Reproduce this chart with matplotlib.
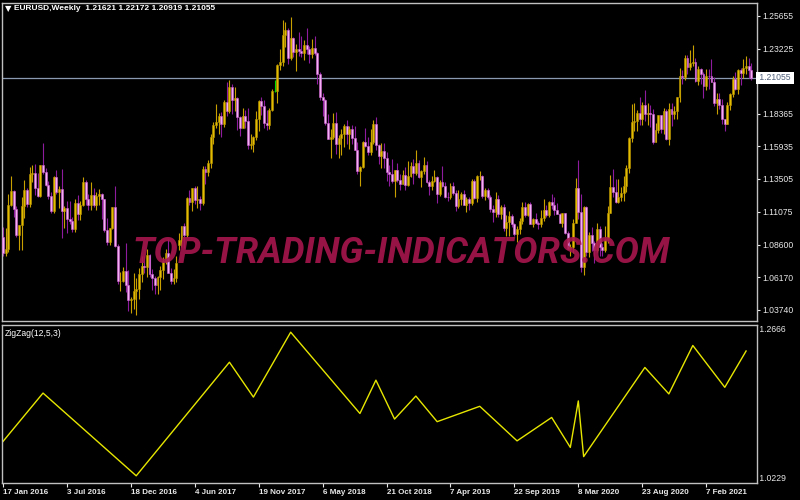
import matplotlib.pyplot as plt
import numpy as np

# weekly EURUSD candles, 17 Jan 2016 .. 6 Jun 2021 (one value per week)
first_open = 1.0915

closes = [
    # 2016
    1.0796, 1.0830, 1.1156, 1.1259, 1.1128, 1.0932, 1.1005, 1.1152, 1.1268, 1.1167,
    1.1390, 1.1396, 1.1284, 1.1225, 1.1453, 1.1404, 1.1308, 1.1223, 1.1114, 1.1367,
    1.1252, 1.1275, 1.1114, 1.1136, 1.1053, 1.1036, 1.0976, 1.1175, 1.1087, 1.1160,
    1.1325, 1.1198, 1.1156, 1.1233, 1.1153, 1.1226, 1.1240, 1.1200, 1.0971, 1.0882,
    1.0984, 1.1142, 1.0850, 1.0588, 1.0589, 1.0664, 1.0560, 1.0448, 1.0454, 1.0517,
    # 2017
    1.0532, 1.0643, 1.0700, 1.0697, 1.0783, 1.0640, 1.0614, 1.0561, 1.0622,
    1.0672, 1.0739, 1.0797, 1.0650, 1.0593, 1.0614, 1.0725, 1.0895, 1.0998,
    1.0932, 1.1206, 1.1181, 1.1281, 1.1195, 1.1200, 1.1170, 1.1426,
    1.1400, 1.1470, 1.1665, 1.1750, 1.1773, 1.1822, 1.1760, 1.1924, 1.1860,
    1.2035, 1.1942, 1.1951, 1.1814, 1.1734, 1.1821, 1.1785, 1.1606, 1.1609,
    1.1664, 1.1795, 1.1931, 1.1892, 1.1770, 1.1750, 1.1866, 1.2005,
    # 2018
    1.2005, 1.2200, 1.2220, 1.2427, 1.2460, 1.2250, 1.2405, 1.2295, 1.2318,
    1.2305, 1.2290, 1.2352, 1.2320, 1.2280, 1.2330, 1.2288, 1.2130, 1.1960,
    1.1943, 1.1770, 1.1650, 1.1660, 1.1770, 1.1610, 1.1658, 1.1685,
    1.1745, 1.1685, 1.1720, 1.1655, 1.1570, 1.1410, 1.1440, 1.1625, 1.1600,
    1.1550, 1.1625, 1.1760, 1.1605, 1.1525, 1.1560, 1.1510, 1.1400, 1.1385,
    1.1336, 1.1415, 1.1340, 1.1315, 1.1380, 1.1305, 1.1370, 1.1445,
    # 2019
    1.1395, 1.1468, 1.1365, 1.1410, 1.1455, 1.1325, 1.1295, 1.1335, 1.1365,
    1.1235, 1.1327, 1.1300, 1.1220, 1.1215, 1.1297, 1.1245, 1.1150, 1.1200,
    1.1235, 1.1157, 1.1205, 1.1170, 1.1335, 1.1210, 1.1370, 1.1372, 1.1225,
    1.1270, 1.1220, 1.1125, 1.1108, 1.1200, 1.1090, 1.1143, 1.0988,
    1.1030, 1.1075, 1.1015, 1.0940, 1.0980, 1.1040, 1.1145, 1.1080, 1.1165,
    1.1018, 1.1052, 1.1020, 1.1017, 1.1060, 1.1122, 1.1080, 1.1178,
    # 2020
    1.1160, 1.1120, 1.1090, 1.1025, 1.1095, 1.0945, 1.0830, 1.0847, 1.1025,
    1.1285, 1.1105, 1.0695, 1.1140, 1.0805, 1.0935, 1.0875, 1.0820, 1.0980,
    1.0840, 1.0820, 1.0900, 1.1100, 1.1290, 1.1255, 1.1180, 1.1220, 1.1245,
    1.1300, 1.1430, 1.1655, 1.1775, 1.1785, 1.1840, 1.1795, 1.1905, 1.1835,
    1.1845, 1.1838, 1.1630, 1.1715, 1.1825, 1.1720, 1.1860, 1.1645,
    1.1875, 1.1835, 1.1860, 1.1960, 1.2120, 1.2110, 1.2255, 1.2185, 1.2215,
    # 2021
    1.2220, 1.2080, 1.2170, 1.2135, 1.2045, 1.2120, 1.2117, 1.2075, 1.1915,
    1.1950, 1.1905, 1.1795, 1.1762, 1.1900, 1.1985, 1.2095, 1.2020,
    1.2165, 1.2140, 1.2180, 1.2190, 1.21621, 1.21055,
]

highs = [
    # 2016
    1.0990, 1.0985, 1.1240, 1.1376, 1.1270, 1.1150, 1.1010, 1.1218, 1.1342, 1.1282,
    1.1438, 1.1454, 1.1464, 1.1398, 1.1458, 1.1616, 1.1432, 1.1339, 1.1250, 1.1373,
    1.1416, 1.1298, 1.1428, 1.1146, 1.1185, 1.1185, 1.1066, 1.1198, 1.1234, 1.1188,
    1.1366, 1.1342, 1.1240, 1.1327, 1.1282, 1.1257, 1.1279, 1.1245, 1.1205, 1.1062,
    1.0987, 1.1144, 1.1300, 1.0865, 1.0660, 1.0698, 1.0874, 1.0670, 1.0468, 1.0653,
    # 2017
    1.0615, 1.0685, 1.0775, 1.0775, 1.0829, 1.0790, 1.0680, 1.0630, 1.0630,
    1.0700, 1.0768, 1.0825, 1.0906, 1.0690, 1.0680, 1.0780, 1.0950, 1.1000,
    1.1022, 1.1213, 1.1268, 1.1285, 1.1296, 1.1296, 1.1225, 1.1445,
    1.1447, 1.1490, 1.1683, 1.1777, 1.1910, 1.1845, 1.1850, 1.1940, 1.2070,
    1.2092, 1.2060, 1.2034, 1.1960, 1.1820, 1.1880, 1.1862, 1.1880, 1.1688,
    1.1670, 1.1861, 1.1938, 1.1960, 1.1940, 1.1862, 1.1878, 1.2023,
    # 2018
    1.2089, 1.2205, 1.2323, 1.2537, 1.2520, 1.2478, 1.2555, 1.2412, 1.2355,
    1.2446, 1.2413, 1.2388, 1.2476, 1.2340, 1.2396, 1.2414, 1.2300, 1.2150,
    1.1990, 1.1950, 1.1834, 1.1725, 1.1840, 1.1852, 1.1675, 1.1720,
    1.1761, 1.1790, 1.1745, 1.1750, 1.1745, 1.1625, 1.1445, 1.1637, 1.1734,
    1.1660, 1.1720, 1.1790, 1.1815, 1.1610, 1.1620, 1.1621, 1.1550, 1.1456,
    1.1500, 1.1420, 1.1472, 1.1390, 1.1420, 1.1442, 1.1486, 1.1475,
    # 2019
    1.1497, 1.1570, 1.1490, 1.1415, 1.1514, 1.1488, 1.1342, 1.1370, 1.1420,
    1.1375, 1.1340, 1.1448, 1.1325, 1.1255, 1.1324, 1.1325, 1.1268, 1.1265,
    1.1250, 1.1265, 1.1215, 1.1215, 1.1348, 1.1347, 1.1380, 1.1412, 1.1380,
    1.1286, 1.1283, 1.1228, 1.1160, 1.1250, 1.1230, 1.1155, 1.1165,
    1.1085, 1.1110, 1.1088, 1.1025, 1.0999, 1.1063, 1.1180, 1.1179, 1.1175,
    1.1176, 1.1060, 1.1097, 1.1040, 1.1117, 1.1200, 1.1155, 1.1188,
    # 2020
    1.1240, 1.1214, 1.1173, 1.1100, 1.1097, 1.1100, 1.0960, 1.0865, 1.1053,
    1.1356, 1.1495, 1.1236, 1.1147, 1.1147, 1.0952, 1.0990, 1.0885, 1.1020,
    1.1000, 1.0877, 1.1000, 1.1147, 1.1384, 1.1422, 1.1350, 1.1350, 1.1290,
    1.1375, 1.1452, 1.1660, 1.1908, 1.1916, 1.1866, 1.1965, 1.1925, 1.2011,
    1.1917, 1.1900, 1.1872, 1.1770, 1.1830, 1.1830, 1.1880, 1.1870,
    1.1920, 1.1920, 1.1895, 1.1965, 1.2178, 1.2165, 1.2273, 1.2272, 1.2310,
    # 2021
    1.2350, 1.2250, 1.2190, 1.2175, 1.2150, 1.2170, 1.2170, 1.2243, 1.2113,
    1.1990, 1.1990, 1.1945, 1.1800, 1.1928, 1.1995, 1.2117, 1.2150,
    1.2170, 1.2180, 1.2245, 1.2265, 1.2254, 1.22172,
]

lows = [
    # 2016
    1.0778, 1.0775, 1.0810, 1.1150, 1.1067, 1.0920, 1.0822, 1.0822, 1.1057, 1.1144,
    1.1145, 1.1325, 1.1234, 1.1216, 1.1217, 1.1385, 1.1297, 1.1198, 1.1099, 1.1097,
    1.1240, 1.1131, 1.0912, 1.0987, 1.0951, 1.1017, 1.0952, 1.0952, 1.1046, 1.1046,
    1.1150, 1.1160, 1.1122, 1.1120, 1.1143, 1.1122, 1.1158, 1.1050, 1.0955, 1.0858,
    1.0857, 1.0980, 1.0845, 1.0568, 1.0518, 1.0581, 1.0505, 1.0366, 1.0352, 1.0385,
    # 2017
    1.0340, 1.0454, 1.0580, 1.0650, 1.0620, 1.0620, 1.0520, 1.0493, 1.0493,
    1.0524, 1.0603, 1.0719, 1.0648, 1.0570, 1.0570, 1.0580, 1.0820, 1.0840,
    1.0839, 1.0920, 1.1160, 1.1110, 1.1165, 1.1131, 1.1118, 1.1160,
    1.1312, 1.1372, 1.1436, 1.1612, 1.1730, 1.1689, 1.1662, 1.1735, 1.1823,
    1.1840, 1.1838, 1.1860, 1.1717, 1.1669, 1.1730, 1.1730, 1.1574, 1.1573,
    1.1554, 1.1640, 1.1712, 1.1830, 1.1730, 1.1716, 1.1720, 1.1858,
    # 2018
    1.1998, 1.1916, 1.2165, 1.2195, 1.2336, 1.2206, 1.2235, 1.2259, 1.2154,
    1.2271, 1.2258, 1.2238, 1.2285, 1.2215, 1.2256, 1.2278, 1.2055, 1.1938,
    1.1822, 1.1750, 1.1645, 1.1510, 1.1645, 1.1540, 1.1508, 1.1527,
    1.1590, 1.1613, 1.1575, 1.1615, 1.1565, 1.1385, 1.1301, 1.1430, 1.1588,
    1.1526, 1.1530, 1.1615, 1.1570, 1.1463, 1.1433, 1.1432, 1.1335, 1.1302,
    1.1320, 1.1215, 1.1330, 1.1265, 1.1310, 1.1269, 1.1300, 1.1365,
    # 2019
    1.1310, 1.1380, 1.1355, 1.1290, 1.1385, 1.1320, 1.1234, 1.1270, 1.1325,
    1.1175, 1.1225, 1.1290, 1.1212, 1.1183, 1.1203, 1.1228, 1.1110, 1.1135,
    1.1157, 1.1155, 1.1105, 1.1117, 1.1160, 1.1202, 1.1181, 1.1346, 1.1206,
    1.1193, 1.1200, 1.1102, 1.1027, 1.1070, 1.1065, 1.1052, 1.0963,
    1.0926, 1.0927, 1.0990, 1.0925, 1.0879, 1.0940, 1.1018, 1.1070, 1.1073,
    1.1013, 1.0989, 1.1015, 1.0980, 1.0995, 1.1040, 1.1065, 1.1070,
    # 2020
    1.1125, 1.1085, 1.1087, 1.1020, 1.0990, 1.0940, 1.0827, 1.0778, 1.0802,
    1.1020, 1.1052, 1.0654, 1.0636, 1.0780, 1.0770, 1.0812, 1.0727, 1.0810,
    1.0780, 1.0775, 1.0806, 1.0870, 1.1096, 1.1215, 1.1168, 1.1170, 1.1185,
    1.1185, 1.1255, 1.1396, 1.1625, 1.1710, 1.1712, 1.1753, 1.1753, 1.1780,
    1.1753, 1.1737, 1.1612, 1.1626, 1.1690, 1.1690, 1.1688, 1.1640,
    1.1603, 1.1745, 1.1800, 1.1800, 1.1925, 1.2060, 1.2085, 1.2130, 1.2165,
    # 2021
    1.2190, 1.2075, 1.2054, 1.2060, 1.1952, 1.2015, 1.2023, 1.2070, 1.1893,
    1.1835, 1.1873, 1.1762, 1.1705, 1.1760, 1.1865, 1.1965, 1.2015,
    1.1985, 1.2050, 1.2105, 1.2133, 1.2104, 1.20919,
]

# ZigZag(12,5,3) turning points: week index and price
zz_idx = [-7, 15, 50, 85, 94, 108, 134, 140, 147, 155, 163, 179, 193, 206, 213, 216, 218, 241, 250, 259, 271, 279]
zz_price = [1.0524, 1.1616, 1.0340, 1.2092, 1.1554, 1.2555, 1.1301, 1.1815, 1.1215, 1.1570, 1.1175,
            1.1412, 1.0879, 1.1240, 1.0778, 1.1495, 1.0636, 1.2011, 1.1603, 1.2350, 1.1705, 1.2265]

price_ticks = [1.25655, 1.23225, 1.20795, 1.18365, 1.15935, 1.13505, 1.11075, 1.08600, 1.06170, 1.03740]
date_idx = [0, 24, 48, 72, 96, 120, 144, 168, 192, 216, 240, 264]
date_labels = ['17 Jan 2016', '3 Jul 2016', '18 Dec 2016', '4 Jun 2017', '19 Nov 2017', '6 May 2018',
               '21 Oct 2018', '7 Apr 2019', '22 Sep 2019', '8 Mar 2020', '23 Aug 2020', '7 Feb 2021']
last_price = 1.21055

# opens follow the previous close, apart from the election gap in Apr 2017
opens = [first_open] + closes[:-1]
opens[66] = 1.0860

plt.rcParams['font.family'] = ['Liberation Sans', 'DejaVu Sans']

n = len(closes)
x = np.arange(n)
o = np.array(opens)
c = np.array(closes)
h = np.array(highs)
l = np.array(lows)

wick_col = []
body_col = []
edge_col = []
for oo, cc in zip(o, c):
    if cc > oo:
        wick_col.append('#c8a000'); body_col.append('#e2bc00'); edge_col.append('#b89400')
    elif cc < oo:
        wick_col.append('#8e1a9e'); body_col.append('#f4b0f4'); edge_col.append('#d060d0')
    else:
        wick_col.append('#00e000'); body_col.append('#00e000'); edge_col.append('#00e000')

W, H = 800, 500
fig = plt.figure(figsize=(8, 5), dpi=100, facecolor='black')

ax = fig.add_axes([2 / W, 1 - 321 / H, 755 / W, 318 / H])
ax2 = fig.add_axes([2 / W, 1 - 483 / H, 755 / W, 158 / H])

frame = '#c0c0c0'
for a in (ax, ax2):
    a.set_facecolor('black')
    a.set_xlim(-0.4, 283.1)
    for s in a.spines.values():
        s.set_color(frame)
        s.set_linewidth(1)

# candles
ax.vlines(x, l, h, colors=wick_col, linewidth=0.8, zorder=2)
ax.bar(x, np.abs(c - o), bottom=np.minimum(o, c), width=0.72, color=body_col,
       edgecolor=edge_col, linewidth=0.4, zorder=3)
ax.axhline(last_price, color='#8a9ab0', linewidth=0.9, zorder=1)

ax.set_ylim(1.02920, 1.26624)
ax.yaxis.tick_right()
ax.set_yticks(price_ticks)
# the 1.20795 label sits under the current-price box
ax.set_yticklabels(['' if abs(v - 1.20795) < 1e-6 else f'{v:.5f}' for v in price_ticks])
ax.tick_params(axis='y', colors='#e8e8e8', labelsize=6.2, length=2, pad=2)
ax.set_xticks([])

ax.text(1.0, last_price, f' {last_price:.5f} ', transform=ax.get_yaxis_transform(),
        ha='left', va='center', fontsize=6.2, color='#50607a', clip_on=False, zorder=10,
        bbox=dict(boxstyle='square,pad=0.15', facecolor='white', edgecolor='none'))

fig.text(5 / W, 1 - 9 / H, '▼', fontsize=6, color='white', va='center', ha='left',
         family=['DejaVu Sans'])
fig.text(14 / W, 1 - 9 / H, 'EURUSD,Weekly  1.21621 1.22172 1.20919 1.21055',
         fontsize=6, color='white', va='center', ha='left', fontweight='bold')

# watermark, sized to span the same width as in the screenshot
wm = fig.text(132 / W, 1 - 263 / H, 'TOP-TRADING-INDICATORS.COM', fontsize=25,
              family=['Liberation Sans Narrow', 'Roboto', 'DejaVu Sans'], fontweight='bold',
              style='italic', color='#a8164e', alpha=0.9, ha='left', va='baseline', zorder=20)
fig.canvas.draw()
bb = wm.get_window_extent()
wm.set_fontsize(25 * 538 / bb.width)

# zigzag panel
ax2.plot(zz_idx, zz_price, color='#e6e600', linewidth=1)
ax2.set_ylim(1.0229, 1.2666)
ax2.set_yticks([])
ax2.text(1.0, 1.0, ' 1.2666', transform=ax2.transAxes, ha='left', va='top',
         fontsize=6.2, color='#e8e8e8')
ax2.text(1.0, 0.0, ' 1.0229', transform=ax2.transAxes, ha='left', va='bottom',
         fontsize=6.2, color='#e8e8e8')
ax2.text(0.003, 0.975, 'ZigZag(12,5,3)', transform=ax2.transAxes, ha='left', va='top',
         fontsize=6.2, color='white')

ax2.set_xticks(date_idx)
ax2.set_xticklabels(date_labels, fontweight='bold')
ax2.tick_params(axis='x', colors='#e8e8e8', labelsize=5.8, length=3, pad=1)
for lab in ax2.get_xticklabels():
    lab.set_horizontalalignment('left')

fig.savefig('out.png', dpi=100, facecolor='black')
